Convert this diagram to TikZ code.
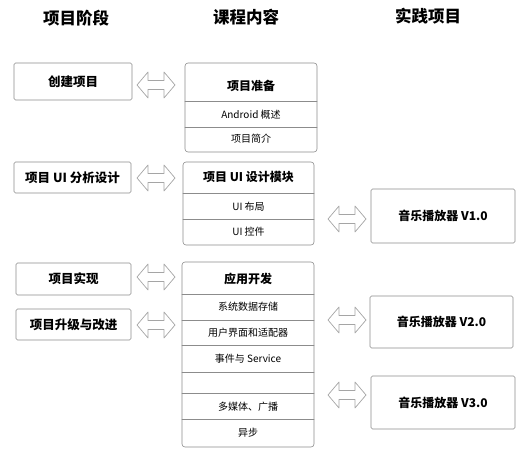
\documentclass[tikz,border=0pt]{standalone}
\usepackage{fontspec}
\setmainfont{Noto Sans CJK SC}
\definecolor{boxline}{RGB}{140,140,140}
\definecolor{arrowline}{RGB}{165,165,165}

\begin{document}
\begin{tikzpicture}[x=1pt,y=-1pt,line cap=round,line join=round,
  headtext/.style={font=\fontsize{16.5}{18}\selectfont\bfseries},
  stagebox/.style={draw=boxline,line width=0.6pt,rounded corners=1.5pt,inner sep=0pt,
    font=\fontsize{12.5}{14}\selectfont\bfseries},
  framebox/.style={draw=boxline,line width=0.6pt,rounded corners=3pt},
  divline/.style={draw=boxline,line width=0.6pt},
  celltitle/.style={inner sep=0pt,font=\fontsize{12}{14}\selectfont\bfseries},
  celltext/.style={inner sep=0pt,font=\fontsize{10}{12}\selectfont},
  dblarrow/.pic={\draw[arrowline,line width=0.7pt,fill=white]
    (-19,0) -- (-8,-13) -- (-8,-4.5) -- (8,-4.5) -- (8,-13) -- (19,0)
    -- (8,13) -- (8,4.5) -- (-8,4.5) -- (-8,13) -- cycle;}]
\useasboundingbox (0,0) rectangle (529,457);

% column heads
\node[headtext] (hstage) at (76,18) {项目阶段};
\node[headtext] (hcourse) at (246,17) {课程内容};
\node[headtext] (hproject) at (428,16) {实践项目};

% project stages
\node[stagebox,minimum width=118,minimum height=37] (s1) at (73,81.5) {创建项目};
\node[stagebox,minimum width=117,minimum height=31] (s2) at (72.5,177.5) {项目 UI 分析设计};
\node[stagebox,minimum width=115,minimum height=32] (s3) at (73.5,279) {项目实现};
\node[stagebox,minimum width=115,minimum height=31] (s4) at (73.5,324.5) {项目升级与改进};

% course content
\draw[framebox] (185,63) rectangle (317,152);
\draw[divline] (185,101) -- (317,101);
\draw[divline] (185,127) -- (317,127);
\node[celltitle] (c11) at (251,86) {项目准备};
\node[celltext] (c12) at (251,114.5) {Android 概述};
\node[celltext] (c13) at (251,139) {项目简介};

\draw[framebox] (183,162) rectangle (314,245);
\draw[divline] (183,193) -- (314,193);
\draw[divline] (183,219) -- (314,219);
\node[celltitle] (c21) at (248.5,177) {项目 UI 设计模块};
\node[celltext] (c22) at (248.5,206.5) {UI 布局};
\node[celltext] (c23) at (248.5,232) {UI 控件};

\draw[framebox] (182,262) rectangle (314,447);
\draw[divline] (182,294) -- (314,294);
\draw[divline] (182,320) -- (314,320);
\draw[divline] (182,345) -- (314,345);
\draw[divline] (182,372) -- (314,372);
\draw[divline] (182,393) -- (314,393);
\draw[divline] (182,419) -- (314,419);
\node[celltitle] (c31) at (248,279) {应用开发};
\node[celltext] (c32) at (248,307) {系统数据存储};
\node[celltext] (c33) at (248,333) {用户界面和适配器};
\node[celltext] (c34) at (248,359) {事件与 Service};
\node[celltext] (c35) at (248,406.5) {多媒体、广播};
\node[celltext] (c36) at (248,433) {异步};

% practice projects
\node[stagebox,font=\fontsize{12}{14}\selectfont\bfseries,minimum width=144,minimum height=54] (p1) at (443,216) {音乐播放器 V1.0};
\node[stagebox,font=\fontsize{12}{14}\selectfont\bfseries,minimum width=143,minimum height=52] (p2) at (441.5,322) {音乐播放器 V2.0};
\node[stagebox,font=\fontsize{12}{14}\selectfont\bfseries,minimum width=144,minimum height=53] (p3) at (443,402.5) {音乐播放器 V3.0};

% block arrows
\pic (a1) at (156,85) {dblarrow};
\pic (a2) at (156,178) {dblarrow};
\pic (a3) at (156,277) {dblarrow};
\pic (a4) at (156,325) {dblarrow};
\pic (a5) at (347,219) {dblarrow};
\pic (a6) at (347,320) {dblarrow};
\pic (a7) at (347,395) {dblarrow};
\end{tikzpicture}
\end{document}
